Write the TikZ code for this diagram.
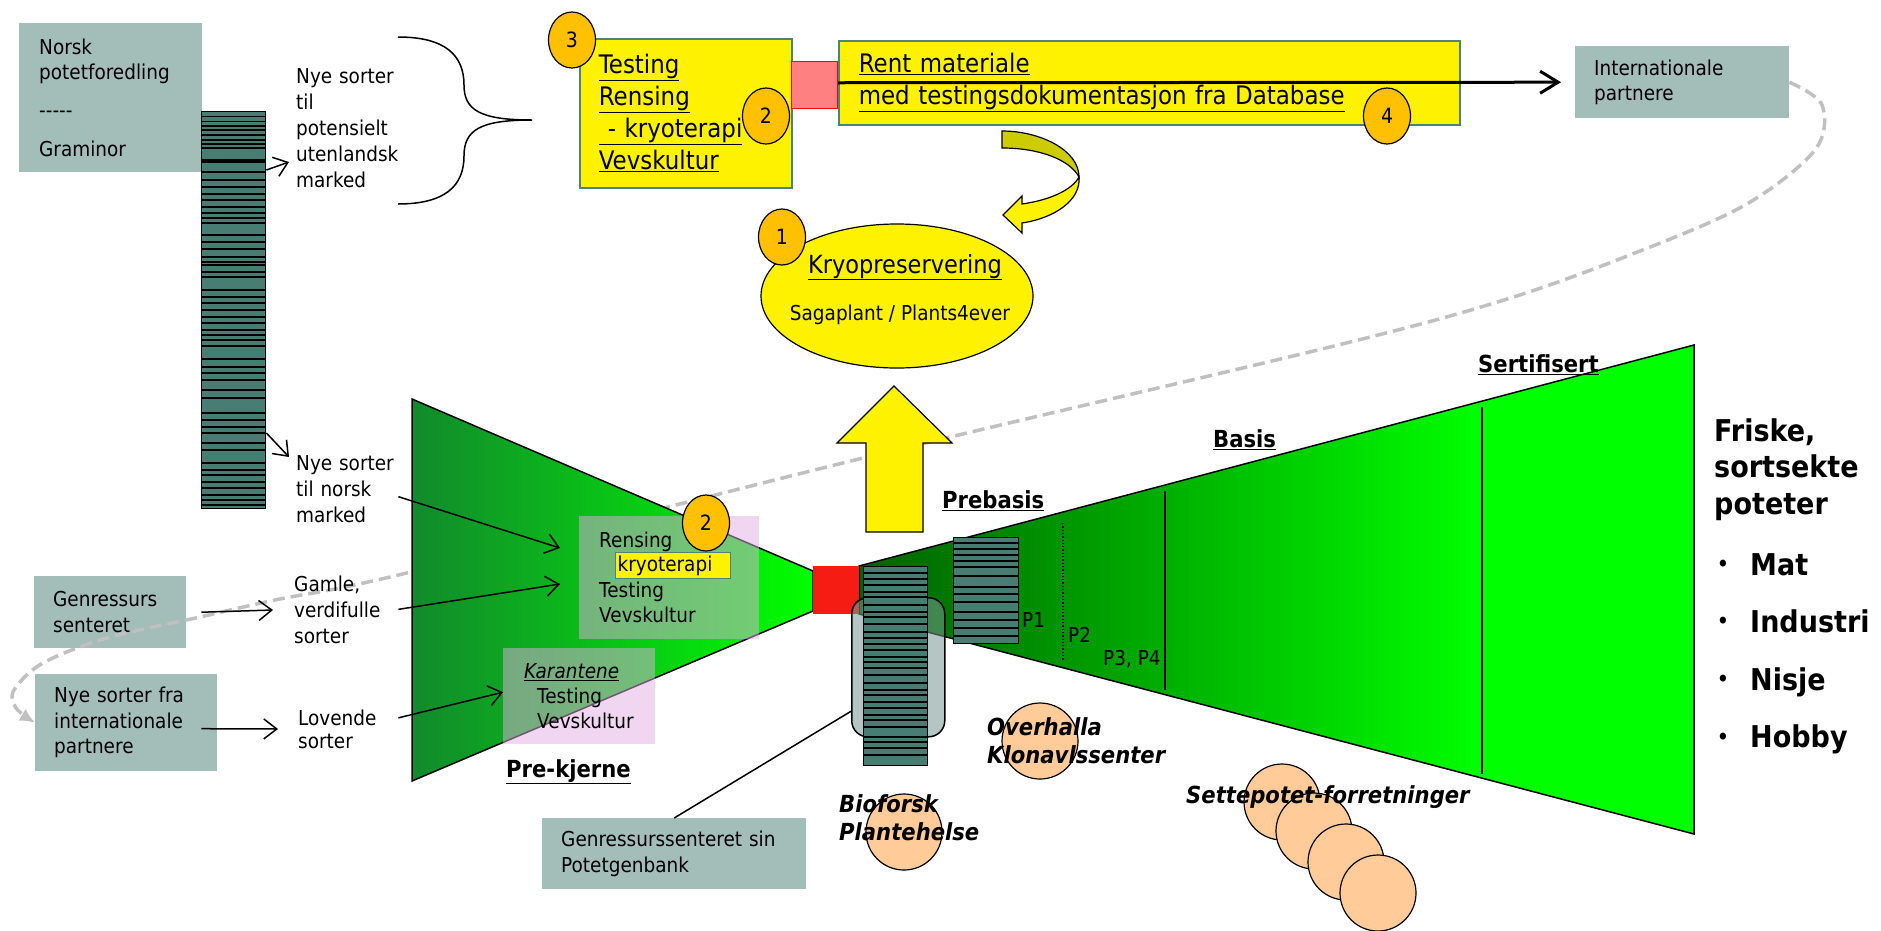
\documentclass[tikz,border=0pt]{standalone}
\usepackage{fontspec}
\setmainfont{DejaVu Sans}[FakeStretch=0.9]
\usetikzlibrary{arrows.meta,positioning,shapes.geometric}

\definecolor{boxgrey}{RGB}{163,189,185}
\definecolor{barteal}{RGB}{71,125,114}
\definecolor{boxline}{RGB}{80,130,120}
\definecolor{numorange}{RGB}{255,192,0}
\definecolor{salmon}{RGB}{255,128,128}
\definecolor{redsq}{RGB}{245,28,20}
\definecolor{pinkfill}{RGB}{225,173,225}
\definecolor{potatofill}{RGB}{255,204,153}
\definecolor{dashgrey}{RGB}{192,192,192}
\definecolor{olivetop}{RGB}{204,204,0}
\definecolor{kjernegreen}{RGB}{18,138,44}
\definecolor{brightgreen}{RGB}{0,255,0}
\definecolor{prebasgreen}{RGB}{0,98,0}
\definecolor{rectgrey}{RGB}{120,150,146}

\newcommand{\fsz}[2]{\fontsize{#1}{#2}\selectfont}

\begin{document}
\begin{tikzpicture}[x=1pt,y=-1pt,
	every node/.style={inner sep=0pt},
	greybox/.style={rectangle,fill=boxgrey,anchor=north west,inner xsep=19pt,align=left,font=\fsz{20.5}{25.5}},
	yellowbox/.style={rectangle,draw=boxline,line width=1.5pt,fill=yellow,anchor=north west,align=left},
	lbl/.style={anchor=base west,align=left,font=\fsz{20.5}{25.5}},
	numc/.style={ellipse,draw,line width=1.2pt,fill=numorange,minimum width=47pt,minimum height=56pt,font=\fsz{21}{25}},
	stripebar/.style={rectangle,draw,line width=1.4pt,fill=barteal,anchor=north west},
	conn/.style={line width=1.5pt,-{Straight Barb[length=13pt,width=20pt]}},
	stage/.style={anchor=base west,font=\bfseries\fsz{23.5}{28}},
	potato/.style={circle,draw,line width=1.2pt,fill=potatofill,minimum size=76pt},
	place/.style={anchor=base west,align=left,font=\bfseries\itshape\fsz{23.5}{28}},
	pinkbox/.style={rectangle,fill=pinkfill,fill opacity=0.5,anchor=north west}
]
\useasboundingbox (0,0) rectangle (1881,930);

% boxes on the left (drawn first, the dashed route runs over them)
\node[greybox,text width=114pt,minimum height=72pt] (genres) at (34,576) {Genressurs\\senteret};
\node[greybox,text width=144pt,minimum height=97pt] (nyefra) at (35,674) {Nye sorter fra\\internationale\\partnere};
\node[greybox,text width=176pt,minimum height=72pt] (intl) at (1575,46) {Internationale\\partnere};

% dashed route back from the international partners
\draw[dashgrey,line width=3.5pt,dash pattern=on 12pt off 6pt,-{Latex[length=15pt,width=14pt]}]
	plot[smooth,tension=0.55] coordinates {(intl.east) (1822,105) (1815,150) (1745,205) (1635,253) (1504,300) (1330,347) (863,458) (411,572) (275,600) (200,617) (107,638) (43,663) (14,690) (16,708) (nyefra.west)};

% pre-kjerne funnel
\shadedraw[left color=kjernegreen,right color=brightgreen,line width=1.5pt] (412,399) -- (813,571) -- (813,611) -- (412,781) -- cycle;

% prebasis / basis / sertifisert funnel
\coordinate (rf1) at (859,566);
\coordinate (rf2) at (1694,345);
\coordinate (rf3) at (1694,834);
\coordinate (rf4) at (859,614);
\fill[brightgreen] (rf1) -- (rf2) -- (rf3) -- (rf4) -- cycle;
\begin{scope}
	\clip (rf1) -- (rf2) -- (rf3) -- (rf4) -- cycle;
	\shade[left color=prebasgreen,right color=brightgreen] (859,330) rectangle (1482,850);
\end{scope}
\draw[line width=1.5pt] (rf1) -- (rf2) -- (rf3) -- (rf4) -- cycle;
\draw[line width=1.3pt,dotted] (1063,523) -- (1063,660);
\draw[line width=1.5pt] (1165,491) -- (1165,690);
\draw[line width=1.5pt] (1482,407) -- (1482,774);
\node[lbl] (p1) at (1022,627) {P1};
\node[lbl] (p2) at (1068,642) {P2};
\node[lbl] (p34) at (1103,665) {P3, P4};

\node[rectangle,fill=redsq,anchor=north west,minimum width=46pt,minimum height=48pt] (redsq) at (813,566) {};

% potetgenbank
\node[rectangle,rounded corners=16pt,draw,line width=1.5pt,fill=rectgrey,fill opacity=0.55,anchor=north west,minimum width=93pt,minimum height=139pt] (genrect) at (851,597) {};
\node[stripebar,minimum width=64pt,minimum height=199pt] (gencol) at (863,566) {};
\foreach \d in {7,13,19,26,31,39,46,51,58,66,72,78,84,91,96,102,109,117,124,129,136,142,149,154,161,171,176,182,189}
	\draw[line width=1.4pt] (gencol.north west) ++(0,\d) -- ++(64,0);
\node[stripebar,minimum width=65pt,minimum height=106pt] (precol) at (953,537) {};
\foreach \d in {6,12,18,24,30,39,50,57,65,75,83,91,99}
	\draw[line width=1.4pt] (precol.north west) ++(0,\d) -- ++(65,0);

% rensing and karantene
\node[pinkbox,minimum width=180pt,minimum height=123pt] (rensbox) at (579,516) {};
\node[pinkbox,minimum width=152pt,minimum height=96pt] (karbox) at (503,648) {};
\node[lbl,text width=150pt,font=\fsz{20.5}{25.3}] (renstxt) at (599,547) {Rensing\\[25pt]Testing\\Vevskultur};
\node[yellowbox,line width=1.2pt,minimum height=26pt,text width=111pt,inner xsep=2pt,font=\fsz{20.5}{25}] (kryobox) at (615,552) {kryoterapi};
\node[lbl,text width=140pt,font=\fsz{20.5}{25}] (kartxt) at (524,678) {\underline{\textit{Karantene}}\\\hspace*{13pt}Testing\\\hspace*{13pt}Vevskultur};
\node[numc] (n2b) at (706,523) {2};

\node[stage] (prekj) at (506,777) {\underline{Pre-kjerne}};
\node[stage] (prebas) at (942,508) {\underline{Prebasis}};
\node[stage] (basis) at (1213,447) {\underline{Basis}};
\node[stage] (sert) at (1478,372) {\underline{Sertifisert}};

% actors
\node[potato] (bioforsk) at (904,832) {};
\node[potato] (overhalla) at (1040,741) {};
\node[potato] (sette1) at (1282,802) {};
\node[potato] (sette2) at (1314,831) {};
\node[potato] (sette3) at (1346,862) {};
\node[potato] (sette4) at (1378,893) {};
\node[place,text width=200pt] (bioforsktxt) at (839,812) {Bioforsk\\Plantehelse};
\node[place,text width=200pt] (overhallatxt) at (987,735) {Overhalla\\Klonavlssenter};
\node[place] (settetxt) at (1186,803) {Settepotet-forretninger};

\node[greybox,text width=226pt,minimum height=71pt] (genbank) at (542,818) {Genressurssenteret sin\\Potetgenbank};
\draw[line width=1.5pt] (genbank.north) -- ([yshift=-44pt]genrect.west);

% Norsk potetforedling
\node[greybox,text width=143pt,inner xsep=20pt,minimum height=149pt] (norsk) at (19,23) {Norsk\\potetforedling\\[12pt]-{}-{}-{}-{}-\\[14pt]Graminor};
\node[stripebar,minimum width=64pt,minimum height=397pt] (bar) at (201,111) {};
\foreach \d in {5.7,10.7,15,19,24,29,33,37,49,51,61,69,76,83,89,96,102,107,112,124,131,138,146,151,154,161,166,179,186,192,199,206,212,219,224,229,235,248,256,262,269,279,287,302,309,316,322,332,339,352,359,364,371,377,384,389,394}
	\draw[line width=1.4pt] (bar.north west) ++(0,\d) -- ++(64,0);

\node[lbl,text width=100pt,font=\fsz{20.5}{26}] (nyeut) at (296,83) {Nye sorter\\til\\potensielt\\utenlandsk\\marked};
\node[lbl,text width=102pt,font=\fsz{20.5}{26}] (nyenorsk) at (296,470) {Nye sorter\\til norsk\\marked};
\node[lbl,text width=96pt,font=\fsz{20.5}{26}] (gamle) at (294,591) {Gamle,\\verdifulle\\sorter};
\node[lbl,text width=92pt,font=\fsz{20.5}{23}] (lovende) at (298,725) {Lovende\\sorter};

\coordinate (utIn) at (289,162);
\coordinate (noIn) at (289,457);
\coordinate (rensIn1) at (560,548);
\coordinate (rensIn2) at (560,584);
\coordinate (gamleIn) at (273,610);
\coordinate (lovIn) at (278,729);
\draw[conn] ([yshift=-59pt]bar.north east) -- (utIn);
\draw[conn] ([yshift=-322pt]bar.north east) -- (noIn);
\draw[conn] ([yshift=-8pt]nyenorsk.east) -- (rensIn1);
\draw[conn] ([xshift=15pt]genres.east) -- (gamleIn);
\draw[conn] ([xshift=8pt]gamle.east) -- (rensIn2);
\draw[conn] ([xshift=-16pt,yshift=-6pt]nyefra.east) -- (lovIn);
\draw[conn] ([xshift=8pt,yshift=11pt]lovende.east) -- ([yshift=4pt]karbox.west);

% brace towards the test lab
\draw[line width=1.5pt] (398,37) .. controls (445,37) and (464,55) .. (464,85)
	.. controls (464,110) and (480,120) .. (532,120)
	.. controls (480,120) and (464,130) .. (464,156)
	.. controls (464,186) and (445,204) .. (398,204);

% testing lab and clean material
\node[yellowbox,text width=174pt,inner xsep=19pt,minimum height=149pt,font=\fsz{25.5}{32}] (box3) at (579,38) {\underline{Testing}\\\underline{Rensing}\\\underline{\hspace*{9pt}- kryoterapi}\\\underline{Vevskultur}};
\node[rectangle,draw=red,line width=1.2pt,fill=salmon,anchor=north west,minimum width=46pt,minimum height=47pt] (redbox) at (791,61) {};
\node[yellowbox,text width=581pt,inner xsep=20pt,minimum height=84pt,font=\fsz{25.5}{32}] (longbox) at (838,40) {\underline{Rent materiale}\\\underline{med testingsdokumentasjon fra Database}};
\draw[line width=3pt,-{Straight Barb[length=18pt,width=22pt]},shorten >=14pt] (longbox.west) -- (intl.west);
\node[numc] (n3) at (572,40) {3};
\node[numc] (n2a) at (766,116) {2};
\node[numc] (n4) at (1387,116) {4};

% turning arrow down to the cryo bank
\filldraw[fill=olivetop,line width=1.2pt] (1002,131) .. controls (1040,131) and (1079,150) .. (1079,177)
	.. controls (1070,160) and (1040,148) .. (1002,148) -- cycle;
\filldraw[fill=yellow,line width=1.2pt] (1079,177) .. controls (1081,200) and (1055,218) .. (1022,223)
	-- (1022,233) -- (1003,215) -- (1022,196) -- (1022,204)
	.. controls (1050,200) and (1072,190) .. (1079,177) -- cycle;

% cryo preservation
\node[ellipse,draw,line width=1.2pt,fill=yellow,minimum width=272pt,minimum height=144pt] (kryo) at (897,296) {};
\node[anchor=base,font=\fsz{25}{30}] (kryotxt) at (905,273) {\underline{Kryopreservering}};
\node[anchor=base,font=\fsz{20.5}{25}] (saga) at (900,320) {Sagaplant / Plants4ever};
\node[numc] (n1) at (782,237) {1};

\filldraw[fill=yellow,line width=1.2pt] (894,386) -- (952,443) -- (923,443) -- (923,532) -- (866,532) -- (866,443) -- (837,443) -- cycle;

% end users
\node[anchor=base west,align=left,text width=170pt,font=\bfseries\fsz{30}{36.5}] (friske) at (1714,441) {Friske,\\sortsekte\\poteter};
\foreach \w [count=\i from 0] in {Mat,Industri,Nisje,Hobby} {
	\node[font=\fsz{24}{28}] (bul\i) at (1723,566+57.6*\i) {\textbullet};
	\node[anchor=base west,font=\bfseries\fsz{30}{36}] (use\i) at (1750,575+57.6*\i) {\w};
}
\end{tikzpicture}
\end{document}
